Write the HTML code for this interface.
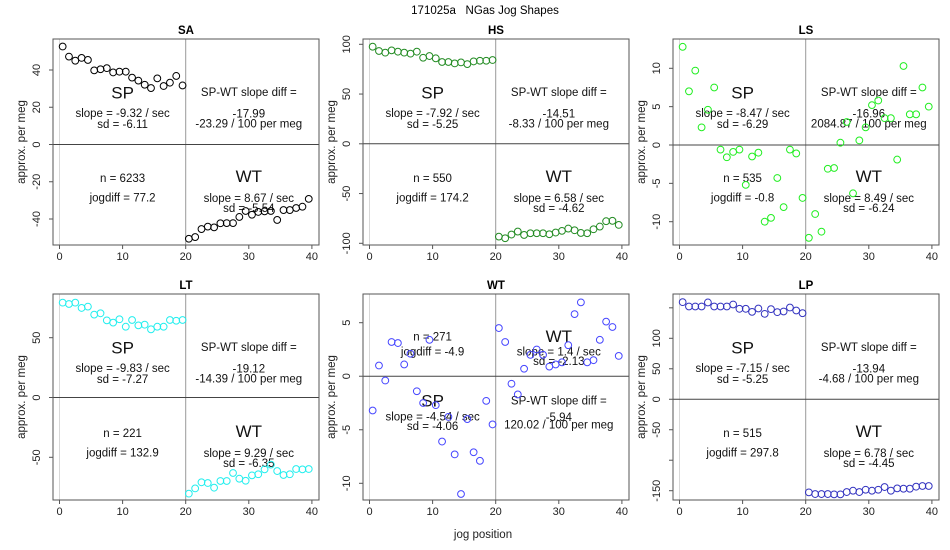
<!DOCTYPE html>
<html><head><meta charset="utf-8"><style>
body{margin:0;background:#fff}
svg{display:block;font-family:"Liberation Sans",Arial,sans-serif}
</style></head><body>
<svg id="c" width="950" height="550" xmlns="http://www.w3.org/2000/svg">
<text x="485" y="14" font-size="11.5" text-anchor="middle" style="white-space:pre">171025a   NGas Jog Shapes</text>
</svg>
<script>
const positions = [];
for (let i = 0; i < 40; i++) positions.push(i + 0.5);
const panelNames = ["SA","HS","LS","LT","WT","LP"];
const saValues = [52.6,47.2,45.0,46.5,45.4,39.8,40.4,41.0,38.7,39.1,39.1,35.9,34.3,32.1,30.3,35.5,31.4,33.2,36.8,31.7,-50.6,-49.7,-45.4,-44.1,-44.5,-42.3,-42.2,-42.2,-38.9,-35.7,-37.7,-36.2,-35.9,-35.7,-40.5,-35.2,-35.2,-34.1,-33.4,-29.2];
const hsValues = [97.6,93.3,91.6,93.9,92.6,91.6,90.6,92.6,86.5,88.2,85.9,82.2,82.2,80.8,81.8,80.1,82.8,83.5,83.5,84.2,-93.3,-94.9,-91.2,-88.2,-91.6,-89.9,-89.9,-89.9,-90.9,-89.2,-87.5,-85.2,-86.9,-89.6,-89.9,-85.9,-83.2,-77.8,-77.4,-81.5];
const lsValues = [12.8,7.0,9.7,2.3,4.6,7.5,-0.6,-1.6,-0.9,-0.6,-5.2,-1.5,-1.0,-10.0,-9.5,-4.3,-8.1,-0.6,-1.1,-6.9,-12.1,-9.0,-11.3,-3.1,-3.0,0.3,3.0,-6.3,0.6,2.3,5.2,5.8,3.5,3.5,-1.9,10.3,4.0,4.0,7.5,5.0];
const ltValues = [79.3,78.2,79.3,74.9,76.0,69.3,70.4,64.5,62.6,65.4,59.2,64.8,60.3,60.9,57.0,59.2,59.2,64.8,64.2,64.8,-80.4,-76.0,-70.9,-71.5,-75.4,-69.8,-69.8,-63.1,-67.9,-69.6,-65.1,-64.2,-60.1,-56.1,-61.5,-64.8,-64.2,-59.8,-60.1,-59.8];
const wtValues = [-3.2,1.0,-0.4,3.2,3.1,1.1,2.1,-1.4,-2.5,3.4,-2.7,-6.1,-3.8,-7.3,-11.0,-4.0,-7.1,-7.9,-2.3,-4.5,4.5,3.2,-0.7,-1.7,0.7,2.0,2.5,2.0,0.9,1.1,1.3,2.9,5.8,6.9,1.3,1.5,3.4,5.1,4.6,1.9];
const lpValues = [159.3,152.2,152.2,152.2,158.8,152.2,152.2,152.2,155.5,148.4,148.4,143.4,148.9,140.1,147.8,142.9,144.0,150.5,145.6,141.2,-152.7,-155.5,-155.5,-155.5,-156.0,-156.0,-152.2,-150.0,-152.2,-148.4,-150.0,-148.4,-144.0,-150.0,-146.2,-146.7,-146.7,-143.4,-142.3,-142.3];
const xTicks = [0,10,20,30,40];
const saTicks = [40,20,0,-20,-40];
const hsTicks = [100,50,0,-50,-100];
const lsTicks = [10,5,0,-5,-10];
const ltTicks = [50,0,-50];
const wtTicks = [5,0,-5,-10];
const lpTicks = [150,100,50,0,-50,-100,-150];
const lpTickLabels = ["","100","50","0","-50","","-150"];
const saText = ["-9.32","-6.11","-17.99","-23.29","6233","77.2","8.67","-5.54"];
const hsText = ["-7.92","-5.25","-14.51","-8.33","550","174.2","6.58","-4.62"];
const lsText = ["-8.47","-6.29","-16.96","2084.87","535","-0.8","8.49","-6.24"];
const ltText = ["-9.83","-7.27","-19.12","-14.39","221","132.9","9.29","-6.35"];
const wtText = ["-4.54","-4.06","-5.94","120.02","271","-4.9","1.4","-2.13"];
const lpText = ["-7.15","-5.25","-13.94","-4.68","515","297.8","6.78","-4.45"];

const NS="http://www.w3.org/2000/svg";
const svg=document.getElementById('c');
function mk(tag,attrs,parent,txt){const e=document.createElementNS(NS,tag);for(const k in attrs)e.setAttribute(k,attrs[k]);if(txt!==undefined)e.textContent=txt;(parent||svg).appendChild(e);return e;}

const panels=[
 {name:"SA",vals:saValues,ticks:saTicks,labels:null,text:saText,color:"#000000",bx:53,by:39,va:40,pa:70,vb:-40,pb:219,swap:false},
 {name:"HS",vals:hsValues,ticks:hsTicks,labels:null,text:hsText,color:"#228B22",bx:363,by:39,va:100,pa:44.3,vb:-100,pb:243.3,swap:false},
 {name:"LS",vals:lsValues,ticks:lsTicks,labels:null,text:lsText,color:"#22ee22",bx:673,by:39,va:10,pa:68.3,vb:-10,pb:221.7,swap:false},
 {name:"LT",vals:ltValues,ticks:ltTicks,labels:null,text:ltText,color:"#22eeee",bx:53,by:294,va:50,pa:337.7,vb:-50,pb:457.3,swap:false},
 {name:"WT",vals:wtValues,ticks:wtTicks,labels:null,text:wtText,color:"#4646ff",bx:363,by:294,va:5,pa:322.7,vb:-10,pb:483.3,swap:true},
 {name:"LP",vals:lpValues,ticks:lpTicks,labels:lpTickLabels,text:lpText,color:"#3434c0",bx:673,by:294,va:100,pa:338.3,vb:-150,pb:490.7,swap:false}
];
const BW=266,BH=206;
panels.forEach(p=>{
  const g=mk('g',{});
  
  
  const xs=v=>p.bx+6.5+v*6.31;
  const ys=v=>p.pa+(v-p.va)*(p.pb-p.pa)/(p.vb-p.va);
  const t=mk('text',{x:p.bx+BW/2,y:p.by-5,'font-size':11.5,'font-weight':'bold','text-anchor':'middle'},g,p.name);
  
  
  mk('line',{x1:xs(0),x2:xs(0),y1:p.by,y2:p.by+BH,stroke:'#d8d8d8'},g);
  mk('line',{x1:xs(20),x2:xs(20),y1:p.by,y2:p.by+BH,stroke:'#999'},g);
  mk('line',{x1:p.bx,x2:p.bx+BW,y1:ys(0),y2:ys(0),stroke:'#444'},g);
  const fr=mk('rect',{x:p.bx,y:p.by,width:BW,height:BH,fill:'none',stroke:'#555'},g);
  
  
  xTicks.forEach(v=>{
    mk('line',{x1:xs(v),x2:xs(v),y1:p.by+BH,y2:p.by+BH+4,stroke:'#555'},g);
    const l=mk('text',{x:xs(v),y:p.by+BH+15,'font-size':11,'text-anchor':'middle',fill:'#222'},g,String(v));
    
    
  });
  p.ticks.forEach((v,i)=>{
    const y=ys(v);
    mk('line',{x1:p.bx-4,x2:p.bx,y1:y,y2:y,stroke:'#555'},g);
    const lab=p.labels?p.labels[i]:String(v);
    if(lab){
      const l=mk('text',{x:0,y:0,'font-size':11,'text-anchor':'middle',fill:'#222',transform:`translate(${p.bx-13},${y}) rotate(-90)`},g,lab);
      
      
    }
  });
  const yt=mk('text',{x:0,y:0,'font-size':11.5,'text-anchor':'middle',fill:'#222',transform:`translate(${p.bx-28},${p.by+BH/2}) rotate(-90)`},g,'approx. per meg');
  
  
  const L=xs(10),R=xs(30),T=p.text;
  function ann(x,y,s,sz,name){const e=mk('text',{x:x,y:p.by+y,'font-size':sz,'text-anchor':'middle',fill:'#111'},g,s);}
  if(!p.swap){
    ann(L,59.5,'SP',17,'sp-label');
    ann(L,78,'slope = '+T[0]+' / sec',11.5,'sp-slope');
    ann(L,89,'sd = '+T[1],11.5,'sp-sd');
    ann(R,57,'SP-WT slope diff =',11.5,'slope-diff-label');
    ann(R,78.5,T[2],11.5,'slope-diff-value');
    ann(R,88.5,T[3]+' / 100 per meg',11.5,'slope-diff-per-meg');
    ann(L,143,'n = '+T[4],11.5,'n-count');
    ann(L,162.5,'jogdiff = '+T[5],11.5,'jogdiff');
    ann(R,143,'WT',17,'wt-label');
    ann(R,163,'slope = '+T[6]+' / sec',11.5,'wt-slope');
    ann(R,173,'sd = '+T[7],11.5,'wt-sd');
  } else {
    ann(L,46.5,'n = '+T[4],11.5,'n-count');
    ann(L,61.5,'jogdiff = '+T[5],11.5,'jogdiff');
    ann(R,48,'WT',17,'wt-label');
    ann(R,61.5,'slope = '+T[6]+' / sec',11.5,'wt-slope');
    ann(R,71,'sd = '+T[7],11.5,'wt-sd');
    ann(L,112.5,'SP',17,'sp-label');
    ann(L,126.5,'slope = '+T[0]+' / sec',11.5,'sp-slope');
    ann(L,136,'sd = '+T[1],11.5,'sp-sd');
    ann(R,110.5,'SP-WT slope diff =',11.5,'slope-diff-label');
    ann(R,127,T[2],11.5,'slope-diff-value');
    ann(R,134.5,T[3]+' / 100 per meg',11.5,'slope-diff-per-meg');
  }
  p.vals.forEach((v,i)=>{
    const c=mk('circle',{cx:xs(positions[i]),cy:ys(v),r:3.4,fill:'none',stroke:p.color,'stroke-width':1},g);
    
    
  });
});
const xt=mk('text',{x:483,y:538,'font-size':11.5,'text-anchor':'middle',fill:'#222'},svg,'jog position');


</script>
</body></html>
